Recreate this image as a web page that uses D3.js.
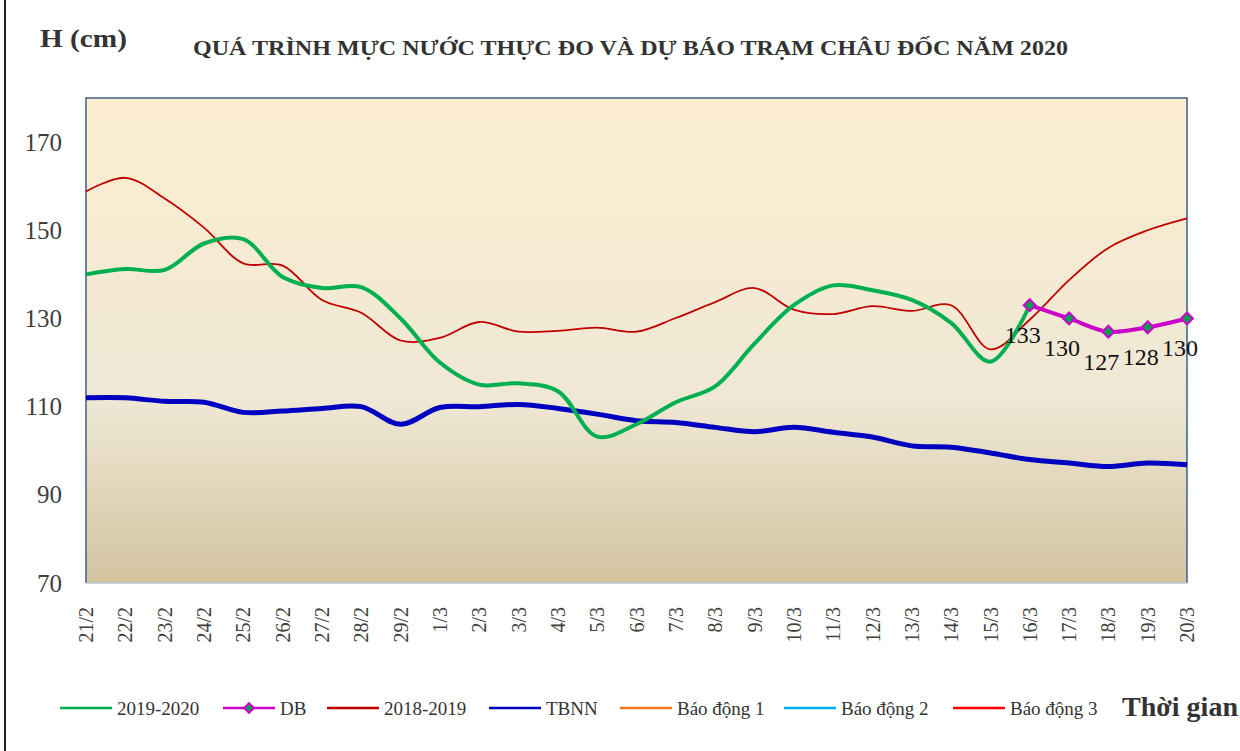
<!DOCTYPE html>
<html><head><meta charset="utf-8">
<script src="https://cdn.jsdelivr.net/npm/d3@7"></script>
<style>body{margin:0;background:#fff}svg{display:block}</style>
</head><body>
<svg id="c" width="1240" height="751"></svg>
<script>
const dates = ["21/2","22/2","23/2","24/2","25/2","26/2","27/2","28/2","29/2","1/3","2/3","3/3","4/3","5/3","6/3","7/3","8/3","9/3","10/3","11/3","12/3","13/3","14/3","15/3","16/3","17/3","18/3","19/3","20/3"];
const s2019_2020 = [140,141.2,141,147,148,139.4,136.9,137.1,130,120,115,115.3,113.5,103.2,106,111,114.6,124.3,133,137.5,136.4,134.2,129,120.2,133];
const dbDates = ["16/3","17/3","18/3","19/3","20/3"];
const dbValues = [133,130,127,128,130];
const s2018_2019 = [158.8,161.9,157.2,150.6,142.5,142,134.2,131.3,125,125.6,129.2,127,127.2,127.9,127,130.1,133.7,136.9,132,131,132.8,131.7,133,123,129.7,138.7,146,150,152.7];
const tbnn = [112,112,111.2,111,108.7,109,109.6,110,106,109.8,110,110.5,109.6,108.3,106.8,106.4,105.3,104.3,105.3,104.2,103.1,101.1,100.8,99.5,98,97.2,96.4,97.2,96.8];
const yTicks = [70,90,110,130,150,170];
const legendItems = [
  {name:"2019-2020", color:"#00b050", marker:false},
  {name:"DB", color:"#cc00cc", marker:true},
  {name:"2018-2019", color:"#c00000", marker:false},
  {name:"TBNN", color:"#0000c0", marker:false},
  {name:"Báo động 1", color:"#f07818", marker:false},
  {name:"Báo động 2", color:"#00b0f0", marker:false},
  {name:"Báo động 3", color:"#ff0000", marker:false}
];

const svg = d3.select("#c");
const L=86, R=1187, T=98, B=583;
const x = d3.scalePoint().domain(dates).range([L,R]);
const y = d3.scaleLinear().domain([70,180]).range([B,T]);
const serif = "'Liberation Serif','Times New Roman',serif";

// outer frame left line
svg.append("line").attr("x1",5).attr("x2",5).attr("y1",0).attr("y2",751).attr("stroke","#222").attr("stroke-width",2);

// gradient
const defs = svg.append("defs");
const g = defs.append("linearGradient").attr("id","bg").attr("x1",0).attr("y1",0).attr("x2",0).attr("y2",1);
g.append("stop").attr("offset","0%").attr("stop-color","#fdeed0");
g.append("stop").attr("offset","62%").attr("stop-color","#efe8d5");
g.append("stop").attr("offset","100%").attr("stop-color","#d3c4a0");
svg.append("rect").attr("x",L).attr("y",T).attr("width",R-L).attr("height",B-T).attr("fill","url(#bg)");

// plot border
svg.append("path").attr("d",`M${L},${B}V${T}H${R}V${B}`).attr("fill","none").attr("stroke","#3d5f8c").attr("stroke-width",1.5);
svg.append("line").attr("x1",L).attr("x2",R).attr("y1",B).attr("y2",B).attr("stroke","#b8c2d2").attr("stroke-width",1.5);

// y axis labels
const yAxis = d3.axisLeft(y).tickValues(yTicks).tickSize(0).tickPadding(24);
const ya = svg.append("g").attr("transform",`translate(${L},0)`).call(yAxis);
ya.select(".domain").remove();
ya.selectAll("text").attr("font-family",serif).attr("font-size",25).attr("fill","#404040");

// x axis labels
const xAxis = d3.axisBottom(x).tickSize(0).tickPadding(0);
const xa = svg.append("g").attr("transform",`translate(0,${B})`).call(xAxis);
xa.select(".domain").remove();
xa.selectAll("text").attr("font-family",serif).attr("font-size",20).attr("fill","#404040")
  .attr("text-anchor","end").attr("transform","rotate(-90)").attr("x",-24).attr("y",0).attr("dy","0.33em");

const curve = d3.curveCatmullRom.alpha(0.5);
const lineFn = (dom) => d3.line().x((d,i)=>x(dom[i])).y(d=>y(d)).curve(curve);

svg.append("path").datum(tbnn).attr("d",lineFn(dates)).attr("fill","none").attr("stroke","#0000c0").attr("stroke-width",5);
svg.append("path").datum(s2018_2019).attr("d",lineFn(dates)).attr("fill","none").attr("stroke","#c00000").attr("stroke-width",1.8);
svg.append("path").datum(s2019_2020).attr("d",lineFn(dates)).attr("fill","none").attr("stroke","#00b050").attr("stroke-width",4);
svg.append("path").datum(dbValues).attr("d",lineFn(dbDates)).attr("fill","none").attr("stroke","#cc00cc").attr("stroke-width",4);

const diamond = d3.symbol().type(d3.symbolDiamond2).size(90);
svg.selectAll(".dbm").data(dbValues).join("path")
  .attr("transform",(d,i)=>`translate(${x(dbDates[i])},${y(d)})`)
  .attr("d",diamond).attr("fill","#00a050").attr("stroke","#cc00cc").attr("stroke-width",2);
svg.selectAll(".dbl").data(dbValues).join("text")
  .attr("x",(d,i)=>x(dbDates[i])-7).attr("y",d=>y(d)+38)
  .attr("text-anchor","middle").attr("font-family",serif).attr("font-size",24).attr("fill","#111")
  .text(d=>d);

// titles
svg.append("text").attr("x",40).attr("y",47).attr("font-family",serif).attr("font-weight","bold").attr("font-size",26).attr("fill","#333")
  .attr("textLength",87).attr("lengthAdjust","spacingAndGlyphs").text("H (cm)");
svg.append("text").attr("x",193).attr("y",55).attr("font-family",serif).attr("font-weight","bold").attr("font-size",20).attr("fill","#333")
  .attr("textLength",875).attr("lengthAdjust","spacingAndGlyphs")
  .text("QUÁ TRÌNH MỰC NƯỚC THỰC ĐO VÀ DỰ BÁO TRẠM CHÂU ĐỐC NĂM  2020");

// legend
const legX = [60,223,327,489,620,784,953];
const lg = svg.append("g");
legendItems.forEach((it,i)=>{
  const x0 = legX[i];
  lg.append("line").attr("x1",x0).attr("x2",x0+52).attr("y1",708).attr("y2",708).attr("stroke",it.color).attr("stroke-width",2.5);
  if(it.marker){
    lg.append("path").attr("transform",`translate(${x0+26},708)`).attr("d",d3.symbol().type(d3.symbolDiamond2).size(60)).attr("fill","#00a050").attr("stroke",it.color).attr("stroke-width",2);
  }
  lg.append("text").attr("x",x0+57).attr("y",715).attr("font-family",serif).attr("font-size",19).attr("fill","#333").text(it.name);
});
svg.append("text").attr("x",1122).attr("y",716).attr("font-family",serif).attr("font-weight","bold").attr("font-size",28).attr("fill","#333")
  .attr("textLength",116).attr("lengthAdjust","spacingAndGlyphs").text("Thời gian");
</script>
</body></html>
